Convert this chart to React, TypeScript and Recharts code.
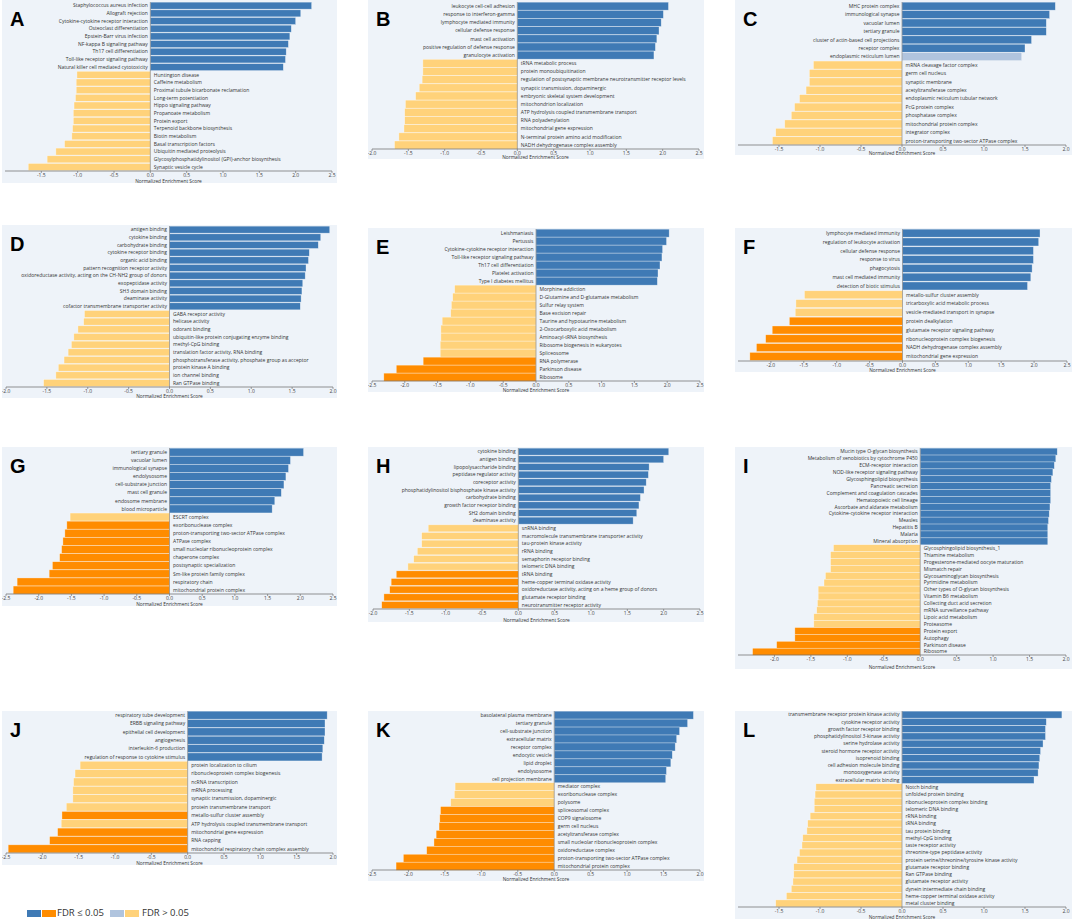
import React from 'react';
import { BarChart, Bar, XAxis, YAxis, ReferenceLine } from 'recharts';

// ---------- colours ----------
const BLUE = '#3F7AB5';
const LIGHT_BLUE = '#B0C4DE';
const ORANGE = '#FF8C00';
const LIGHT_ORANGE = '#FFD27A';
const BG = '#EEF3F9';
const FONT = '"Open Sans", "Noto Sans", sans-serif';

// ---------- tick labels ----------
const TICKS_M20_P25 = [-2.0, -1.5, -1.0, -0.5, 0.0, 0.5, 1.0, 1.5, 2.0, 2.5];
const TICKS_M20_P20 = [-2.0, -1.5, -1.0, -0.5, 0.0, 0.5, 1.0, 1.5, 2.0];
const TICKS_M25_P25 = [-2.5, -2.0, -1.5, -1.0, -0.5, 0.0, 0.5, 1.0, 1.5, 2.0, 2.5];
const TICKS_M25_P20 = [-2.5, -2.0, -1.5, -1.0, -0.5, 0.0, 0.5, 1.0, 1.5, 2.0];

// ---------- A ----------
const A_LABELS = [
  'Staphylococcus aureus infection', 'Allograft rejection', 'Cytokine-cytokine receptor interaction',
  'Osteoclast differentiation', 'Epstein-Barr virus infection', 'NF-kappa B signaling pathway',
  'Th17 cell differentiation', 'Toll-like receptor signaling pathway', 'Natural killer cell mediated cytotoxicity',
  'Huntington disease', 'Caffeine metabolism', 'Proximal tubule bicarbonate reclamation', 'Long-term potentiation',
  'Hippo signaling pathway', 'Propanoate metabolism', 'Protein export', 'Terpenoid backbone biosynthesis',
  'Biotin metabolism', 'Basal transcription factors', 'Ubiquitin mediated proteolysis',
  'Glycosylphosphatidylinositol (GPI)-anchor biosynthesis', 'Synaptic vesicle cycle',
];
const A_VALUES = [2.22, 2.07, 2.0, 1.94, 1.92, 1.9, 1.87, 1.86, 1.83,
  -1.01, -1.02, -1.02, -1.03, -1.05, -1.06, -1.06, -1.07, -1.08, -1.18, -1.3, -1.42, -1.68];
const A_SIG = [1, 1, 1, 1, 1, 1, 1, 1, 1, 0, 0, 0, 0, 0, 0, 0, 0, 0, 0, 0, 0, 0];

// ---------- B ----------
const B_LABELS = [
  'leukocyte cell-cell adhesion', 'response to interferon-gamma', 'lymphocyte mediated immunity',
  'cellular defense response', 'mast cell activation', 'positive regulation of defense response',
  'granulocyte activation', 'tRNA metabolic process', 'protein monoubiquitination',
  'regulation of postsynaptic membrane neurotransmitter receptor levels', 'synaptic transmission, dopaminergic',
  'embryonic skeletal system development', 'mitochondrion localization',
  'ATP hydrolysis coupled transmembrane transport', 'RNA polyadenylation', 'mitochondrial gene expression',
  'N-terminal protein amino acid modification', 'NADH dehydrogenase complex assembly',
];
const B_VALUES = [2.08, 2.01, 1.98, 1.95, 1.92, 1.9, 1.88,
  -1.3, -1.3, -1.31, -1.35, -1.4, -1.54, -1.55, -1.55, -1.56, -1.63, -1.69];
const B_SIG = [1, 1, 1, 1, 1, 1, 1, 0, 0, 0, 0, 0, 0, 0, 0, 0, 0, 0];

// ---------- C ----------
const C_LABELS = [
  'MHC protein complex', 'immunological synapse', 'vacuolar lumen', 'tertiary granule',
  'cluster of actin-based cell projections', 'receptor complex', 'endoplasmic reticulum lumen',
  'mRNA cleavage factor complex', 'germ cell nucleus', 'synaptic membrane', 'acetyltransferase complex',
  'endoplasmic reticulum tubular network', 'PcG protein complex', 'phosphatase complex',
  'mitochondrial protein complex', 'integrator complex', 'proton-transporting two-sector ATPase complex',
];
const C_VALUES = [1.87, 1.8, 1.76, 1.76, 1.58, 1.5, 1.46,
  -1.08, -1.13, -1.13, -1.17, -1.25, -1.31, -1.35, -1.43, -1.54, -1.58];
const C_SIG = [1, 1, 1, 1, 1, 1, 0, 0, 0, 0, 0, 0, 0, 0, 0, 0, 0];

// ---------- D ----------
const D_LABELS = [
  'antigen binding', 'cytokine binding', 'carbohydrate binding', 'cytokine receptor binding',
  'organic acid binding', 'pattern recognition receptor activity',
  'oxidoreductase activity, acting on the CH-NH2 group of donors', 'exopeptidase activity',
  'SH3 domain binding', 'deaminase activity', 'cofactor transmembrane transporter activity',
  'GABA receptor activity', 'helicase activity', 'odorant binding',
  'ubiquitin-like protein conjugating enzyme binding', 'methyl-CpG binding',
  'translation factor activity, RNA binding', 'phosphotransferase activity, phosphate group as acceptor',
  'protein kinase A binding', 'ion channel binding', 'Ran GTPase binding',
];
const D_VALUES = [1.96, 1.85, 1.82, 1.71, 1.7, 1.67, 1.66, 1.63, 1.62, 1.61, 1.6,
  -1.04, -1.05, -1.12, -1.17, -1.2, -1.24, -1.29, -1.36, -1.39, -1.54];
const D_SIG = [1, 1, 1, 1, 1, 1, 1, 1, 1, 1, 1, 0, 0, 0, 0, 0, 0, 0, 0, 0, 0];

// ---------- E ----------
const E_LABELS = [
  'Leishmaniasis', 'Pertussis', 'Cytokine-cytokine receptor interaction', 'Toll-like receptor signaling pathway',
  'Th17 cell differentiation', 'Platelet activation', 'Type I diabetes mellitus', 'Morphine addiction',
  'D-Glutamine and D-glutamate metabolism', 'Sulfur relay system', 'Base excision repair',
  'Taurine and hypotaurine metabolism', '2-Oxocarboxylic acid metabolism', 'Aminoacyl-tRNA biosynthesis',
  'Ribosome biogenesis in eukaryotes', 'Spliceosome', 'RNA polymerase', 'Parkinson disease', 'Ribosome',
];
const E_VALUES = [2.03, 1.99, 1.93, 1.92, 1.89, 1.86, 1.85,
  -1.24, -1.27, -1.29, -1.3, -1.43, -1.45, -1.45, -1.46, -1.46, -1.72, -2.13, -2.32];
const E_SIG = [1, 1, 1, 1, 1, 1, 1, 0, 0, 0, 0, 0, 0, 0, 0, 0, 1, 1, 1];

// ---------- F ----------
const F_LABELS = [
  'lymphocyte mediated immunity', 'regulation of leukocyte activation', 'cellular defense response',
  'response to virus', 'phagocytosis', 'mast cell mediated immunity', 'detection of biotic stimulus',
  'metallo-sulfur cluster assembly', 'tricarboxylic acid metabolic process',
  'vesicle-mediated transport in synapse', 'protein dealkylation', 'glutamate receptor signaling pathway',
  'ribonucleoprotein complex biogenesis', 'NADH dehydrogenase complex assembly', 'mitochondrial gene expression',
];
const F_VALUES = [2.09, 2.07, 1.99, 1.99, 1.97, 1.95, 1.9,
  -1.49, -1.62, -1.63, -1.72, -1.98, -2.08, -2.22, -2.32];
const F_SIG = [1, 1, 1, 1, 1, 1, 1, 0, 0, 0, 1, 1, 1, 1, 1];

// ---------- G ----------
const G_LABELS = [
  'tertiary granule', 'vacuolar lumen', 'immunological synapse', 'endolysosome', 'cell-substrate junction',
  'mast cell granule', 'endosome membrane', 'blood microparticle', 'ESCRT complex', 'exoribonuclease complex',
  'proton-transporting two-sector ATPase complex', 'ATPase complex', 'small nucleolar ribonucleoprotein complex',
  'chaperone complex', 'postsynaptic specialization', 'Sm-like protein family complex', 'respiratory chain',
  'mitochondrial protein complex',
];
const G_VALUES = [2.05, 1.85, 1.82, 1.78, 1.75, 1.71, 1.61, 1.57,
  -1.52, -1.57, -1.6, -1.63, -1.65, -1.68, -1.79, -1.84, -2.33, -2.39];
const G_SIG = [1, 1, 1, 1, 1, 1, 1, 1, 0, 1, 1, 1, 1, 1, 1, 1, 1, 1];

// ---------- H ----------
const H_LABELS = [
  'cytokine binding', 'antigen binding', 'lipopolysaccharide binding', 'peptidase regulator activity',
  'coreceptor activity', 'phosphatidylinositol bisphosphate kinase activity', 'carbohydrate binding',
  'growth factor receptor binding', 'SH2 domain binding', 'deaminase activity', 'snRNA binding',
  'macromolecule transmembrane transporter activity', 'tau-protein kinase activity', 'rRNA binding',
  'semaphorin receptor binding', 'telomeric DNA binding', 'tRNA binding', 'heme-copper terminal oxidase activity',
  'oxidoreductase activity, acting on a heme group of donors', 'glutamate receptor binding',
  'neurotransmitter receptor activity',
];
const H_VALUES = [2.07, 2.0, 1.8, 1.79, 1.76, 1.73, 1.68, 1.66, 1.63, 1.58,
  -1.24, -1.33, -1.33, -1.39, -1.44, -1.52, -1.68, -1.75, -1.77, -1.85, -1.88];
const H_SIG = [1, 1, 1, 1, 1, 1, 1, 1, 1, 1, 0, 0, 0, 0, 0, 0, 1, 1, 1, 1, 1];

// ---------- I ----------
const I_LABELS = [
  'Mucin type O-glycan biosynthesis', 'Metabolism of xenobiotics by cytochrome P450', 'ECM-receptor interaction',
  'NOD-like receptor signaling pathway', 'Glycosphingolipid biosynthesis', 'Pancreatic secretion',
  'Complement and coagulation cascades', 'Hematopoietic cell lineage', 'Ascorbate and aldarate metabolism',
  'Cytokine-cytokine receptor interaction', 'Measles', 'Hepatitis B', 'Malaria', 'Mineral absorption',
  'Glycosphingolipid biosynthesis_1', 'Thiamine metabolism', 'Progesterone-mediated oocyte maturation',
  'Mismatch repair', 'Glycosaminoglycan biosynthesis', 'Pyrimidine metabolism',
  'Other types of O-glycan biosynthesis', 'Vitamin B6 metabolism', 'Collecting duct acid secretion',
  'mRNA surveillance pathway', 'Lipoic acid metabolism', 'Proteasome', 'Protein export', 'Autophagy',
  'Parkinson disease', 'Ribosome',
];
const I_VALUES = [1.88, 1.86, 1.84, 1.82, 1.8, 1.79, 1.79, 1.79, 1.78, 1.77, 1.76, 1.75, 1.75, 1.75,
  -1.19, -1.23, -1.23, -1.23, -1.3, -1.32, -1.4, -1.4, -1.41, -1.42, -1.46, -1.46, -1.72, -1.72, -1.97, -2.3];
const I_SIG = [1, 1, 1, 1, 1, 1, 1, 1, 1, 1, 1, 1, 1, 1,
  0, 0, 0, 0, 0, 0, 0, 0, 0, 0, 0, 0, 1, 1, 1, 1];

// ---------- J ----------
const J_LABELS = [
  'respiratory tube development', 'ERBB signaling pathway', 'epithelial cell development', 'angiogenesis',
  'interleukin-6 production', 'regulation of response to cytokine stimulus', 'protein localization to cilium',
  'ribonucleoprotein complex biogenesis', 'ncRNA transcription', 'mRNA processing',
  'synaptic transmission, dopaminergic', 'protein transmembrane transport', 'metallo-sulfur cluster assembly',
  'ATP hydrolysis coupled transmembrane transport', 'mitochondrial gene expression', 'RNA capping',
  'mitochondrial respiratory chain complex assembly',
];
const J_VALUES = [1.92, 1.89, 1.89, 1.88, 1.86, 1.85,
  -1.48, -1.55, -1.57, -1.58, -1.58, -1.67, -1.73, -1.74, -1.79, -1.9, -2.47];
const J_SIG = [1, 1, 1, 1, 1, 1, 0, 0, 0, 0, 0, 0, 1, 0, 1, 1, 1];

// ---------- K ----------
const K_LABELS = [
  'basolateral plasma membrane', 'tertiary granule', 'cell-substrate junction', 'extracellular matrix',
  'receptor complex', 'endocytic vesicle', 'lipid droplet', 'endolysosome', 'cell projection membrane',
  'mediator complex', 'exoribonuclease complex', 'polysome', 'spliceosomal complex', 'COP9 signalosome',
  'germ cell nucleus', 'acetyltransferase complex', 'small nucleolar ribonucleoprotein complex',
  'oxidoreductase complex', 'proton-transporting two-sector ATPase complex', 'mitochondrial protein complex',
];
const K_VALUES = [1.91, 1.83, 1.72, 1.68, 1.66, 1.62, 1.6, 1.54, 1.53,
  -1.36, -1.37, -1.42, -1.56, -1.57, -1.58, -1.62, -1.65, -1.75, -2.07, -2.17];
const K_SIG = [1, 1, 1, 1, 1, 1, 1, 1, 1, 0, 0, 0, 1, 1, 1, 1, 1, 1, 1, 1];

// ---------- L ----------
const L_LABELS = [
  'transmembrane receptor protein kinase activity', 'cytokine receptor activity', 'growth factor receptor binding',
  'phosphatidylinositol 3-kinase activity', 'serine hydrolase activity', 'steroid hormone receptor activity',
  'isoprenoid binding', 'cell adhesion molecule binding', 'monooxygenase activity', 'extracellular matrix binding',
  'Notch binding', 'unfolded protein binding', 'ribonucleoprotein complex binding', 'telomeric DNA binding',
  'rRNA binding', 'tRNA binding', 'tau protein binding', 'methyl-CpG binding', 'taste receptor activity',
  'threonine-type peptidase activity', 'protein serine/threonine/tyrosine kinase activity',
  'glutamate receptor binding', 'Ran GTPase binding', 'glutamate receptor activity',
  'dynein intermediate chain binding', 'heme-copper terminal oxidase activity', 'metal cluster binding',
];
const L_VALUES = [1.95, 1.76, 1.75, 1.75, 1.72, 1.69, 1.68, 1.67, 1.66, 1.61,
  -1.05, -1.06, -1.07, -1.07, -1.12, -1.15, -1.16, -1.21, -1.22, -1.25, -1.28, -1.32, -1.32, -1.33,
  -1.35, -1.41, -1.54];
const L_SIG = [1, 1, 1, 1, 1, 1, 1, 1, 1, 1, 0, 0, 0, 0, 0, 0, 0, 0, 0, 0, 0, 0, 0, 0, 0, 0, 0];

// ---------- layout (pixel boxes, separate from data) ----------
type Box = { x: number; y: number; w: number; h: number; ml: number; mr: number; mt: number; axisH: number };

const PANELS = [
  { id: 'A', labels: A_LABELS, values: A_VALUES, sig: A_SIG, ticks: TICKS_M20_P25, box: { x: 2, y: 0, w: 335, h: 183, ml: 3, mr: 5, mt: 2, axisH: 12 } },
  { id: 'B', labels: B_LABELS, values: B_VALUES, sig: B_SIG, ticks: TICKS_M20_P25, box: { x: 368, y: 0, w: 336, h: 159, ml: 4, mr: 5, mt: 2, axisH: 10 } },
  { id: 'C', labels: C_LABELS, values: C_VALUES, sig: C_SIG, ticks: TICKS_M20_P20, box: { x: 735, y: 0, w: 337, h: 155, ml: 3, mr: 6, mt: 2, axisH: 10 } },
  { id: 'D', labels: D_LABELS, values: D_VALUES, sig: D_SIG, ticks: TICKS_M20_P20, box: { x: 2, y: 225, w: 335, h: 173, ml: 4, mr: 4, mt: 1, axisH: 11 } },
  { id: 'E', labels: E_LABELS, values: E_VALUES, sig: E_SIG, ticks: TICKS_M25_P25, box: { x: 368, y: 228, w: 336, h: 164, ml: 4, mr: 4, mt: 1, axisH: 11 } },
  { id: 'F', labels: F_LABELS, values: F_VALUES, sig: F_SIG, ticks: TICKS_M25_P25, box: { x: 735, y: 228, w: 337, h: 144, ml: 3, mr: 5, mt: 1, axisH: 11 } },
  { id: 'G', labels: G_LABELS, values: G_VALUES, sig: G_SIG, ticks: TICKS_M25_P25, box: { x: 2, y: 447, w: 335, h: 159, ml: 4, mr: 4, mt: 1, axisH: 12 } },
  { id: 'H', labels: H_LABELS, values: H_VALUES, sig: H_SIG, ticks: TICKS_M20_P25, box: { x: 368, y: 447, w: 336, h: 175, ml: 5, mr: 4, mt: 1, axisH: 13 } },
  { id: 'I', labels: I_LABELS, values: I_VALUES, sig: I_SIG, ticks: TICKS_M25_P20, box: { x: 735, y: 447, w: 337, h: 222, ml: 3, mr: 6, mt: 1, axisH: 14 } },
  { id: 'J', labels: J_LABELS, values: J_VALUES, sig: J_SIG, ticks: TICKS_M25_P20, box: { x: 2, y: 711, w: 335, h: 154, ml: 4, mr: 4, mt: 0, axisH: 12 } },
  { id: 'K', labels: K_LABELS, values: K_VALUES, sig: K_SIG, ticks: TICKS_M25_P20, box: { x: 368, y: 711, w: 336, h: 170, ml: 4, mr: 4, mt: 0, axisH: 11 } },
  { id: 'L', labels: L_LABELS, values: L_VALUES, sig: L_SIG, ticks: TICKS_M20_P20, box: { x: 735, y: 711, w: 337, h: 208, ml: 3, mr: 6, mt: 0, axisH: 12 } },
];

function colorFor(v: number, s: number) {
  if (v >= 0) return s ? BLUE : LIGHT_BLUE;
  return s ? ORANGE : LIGHT_ORANGE;
}

const BarWithLabel = (props: any) => {
  const { x, y, width, height } = props;
  const p = props.payload || props;
  const v: number = p.value;
  const left = Math.min(x, x + width);
  const w = Math.abs(width);
  const zero = v >= 0 ? left : left + w;
  const cy = y + height / 2;
  return (
    <g>
      <rect x={left} y={y} width={w} height={height} fill={p.color} stroke="#ffffff" strokeOpacity={0.55} strokeWidth={0.6} />
      <text
        x={v >= 0 ? zero - 2.5 : zero + 3.5}
        y={cy}
        dy="0.35em"
        textAnchor={v >= 0 ? 'end' : 'start'}
        fontSize={5}
        fontFamily={FONT}
        fill="#333"
      >
        {p.name}
      </text>
    </g>
  );
};

function Panel({ id, labels, values, sig, ticks, box }: { id: string; labels: string[]; values: number[]; sig: number[]; ticks: number[]; box: Box }) {
  const data = labels.map((name, i) => ({ name, value: values[i], color: colorFor(values[i], sig[i]) }));
  const lo = ticks[0];
  const hi = ticks[ticks.length - 1];
  return (
    <div style={{ position: 'absolute', left: box.x, top: box.y, width: box.w, height: box.h, background: BG }}>
      <BarChart
        width={box.w}
        height={box.h}
        data={data}
        layout="vertical"
        margin={{ top: box.mt, right: box.mr, bottom: 0, left: box.ml }}
        barCategoryGap="2%"
      >
        <XAxis
          type="number"
          domain={[lo, hi]}
          ticks={ticks}
          allowDataOverflow
          height={box.axisH}
          tickFormatter={(t: number) => t.toFixed(1)}
          tick={{ fontSize: 5, fill: '#444', fontFamily: FONT }}
          tickSize={2}
          tickMargin={0.5}
          axisLine={{ stroke: '#666', strokeWidth: 0.7 }}
          tickLine={{ stroke: '#666', strokeWidth: 0.6 }}
          label={{ value: 'Normalized Enrichment Score', position: 'insideBottom', offset: 0, fontSize: 4.8, fill: '#333', fontFamily: FONT }}
        />
        <YAxis type="category" dataKey="name" hide />
        <Bar dataKey="value" isAnimationActive={false} shape={BarWithLabel} />
        <ReferenceLine x={0} stroke="#777" strokeWidth={0.6} />
      </BarChart>
      <div
        style={{
          position: 'absolute',
          left: 8,
          top: 9,
          fontFamily: '"Liberation Sans", Arial, sans-serif',
          fontWeight: 'bold',
          fontSize: 20,
          lineHeight: 1,
          color: '#000',
        }}
      >
        {id}
      </div>
    </div>
  );
}

function Legend() {
  const sw = (x: number, c: string) => (
    <div style={{ position: 'absolute', left: x, top: 910, width: 14, height: 7, background: c }} />
  );
  const txt = (x: number, s: string) => (
    <div style={{ position: 'absolute', left: x, top: 906, fontFamily: FONT, fontSize: 9.5, lineHeight: '14px', color: '#333', whiteSpace: 'nowrap' }}>{s}</div>
  );
  return (
    <>
      {sw(27, BLUE)}
      {sw(42, ORANGE)}
      {txt(57, 'FDR ≤ 0.05')}
      {sw(110, LIGHT_BLUE)}
      {sw(125, LIGHT_ORANGE)}
      {txt(142, 'FDR > 0.05')}
    </>
  );
}

export default function App() {
  return (
    <div style={{ position: 'absolute', left: 0, top: 0, width: 1072, height: 920, background: '#fff', overflow: 'hidden' }}>
      {PANELS.map((p) => (
        <Panel key={p.id} {...p} />
      ))}
      <Legend />
    </div>
  );
}
